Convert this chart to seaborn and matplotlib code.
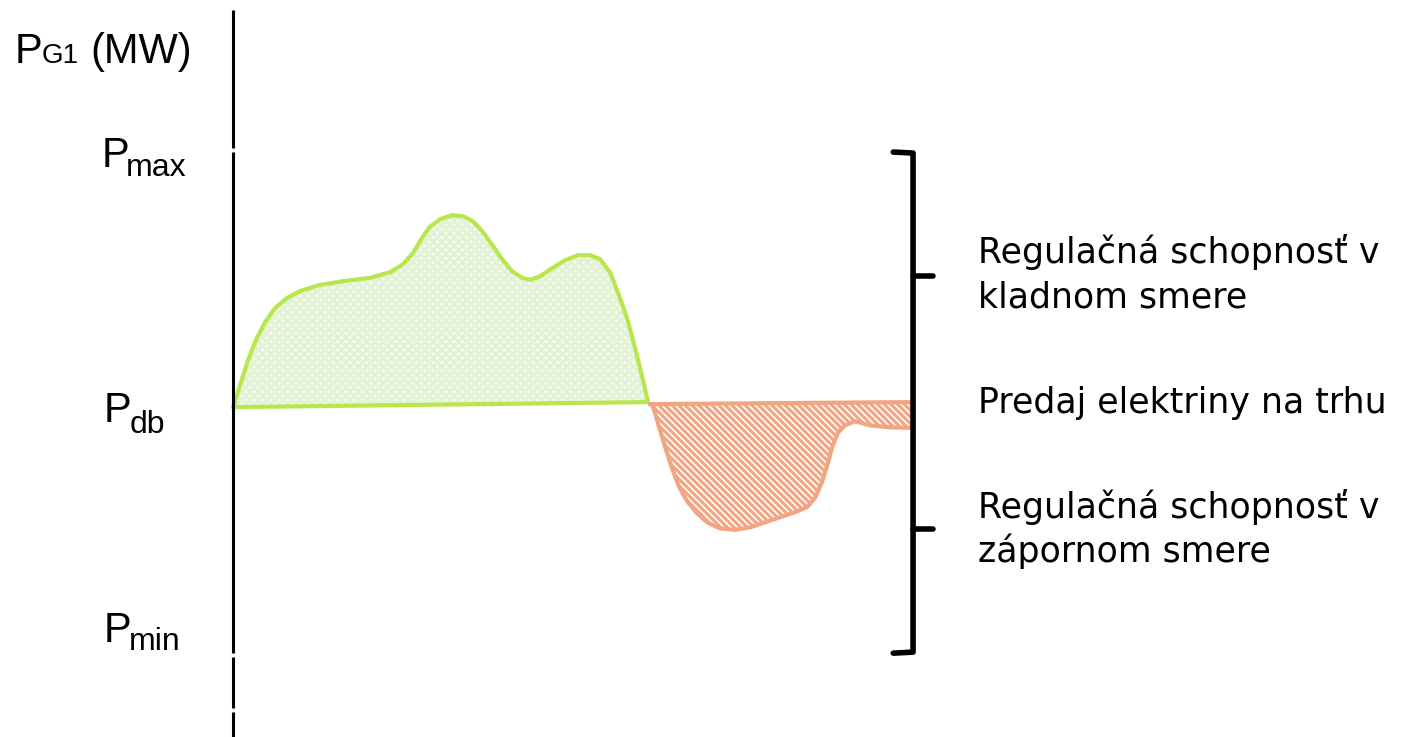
import numpy as np
import pandas as pd
import matplotlib.pyplot as plt
import seaborn as sns

# Power levels of the unit (MW)
p_max = 100
p_db = 50
p_min = 0

# Positive regulation (green area) - time (h) vs power (MW)
up_t = [0.00, 0.25, 0.53, 0.81, 1.13, 1.48, 1.91, 2.37, 3.08, 3.96, 4.84, 5.55, 6.01, 6.36,
        6.68, 6.96, 7.32, 7.74, 8.13, 8.48, 8.80, 9.16, 9.51, 9.86, 10.22, 10.50, 10.85,
        11.28, 11.74, 12.20, 12.62, 12.97, 13.33, 13.68, 13.93, 14.14, 14.32, 14.49, 14.67]
up_p = [49.1, 53.5, 58.4, 62.4, 65.9, 68.7, 70.7, 72.1, 73.3, 74.1, 74.7, 75.8, 77.4, 79.6,
        82.6, 84.8, 86.3, 87.1, 86.9, 85.9, 84.0, 81.2, 78.4, 76.0, 74.7, 74.3, 75.0,
        76.6, 78.2, 79.2, 79.2, 78.4, 75.8, 70.7, 66.7, 62.4, 58.4, 54.5, 50.1]

# Negative regulation (orange area)
down_t = [14.74, 24.00, 24.00, 23.22, 22.52, 21.99, 21.63, 21.38, 21.17, 21.03, 20.81, 20.57,
          20.29, 19.87, 19.34, 18.81, 18.28, 17.74, 17.21, 16.76, 16.40, 16.05, 15.77,
          15.52, 15.31, 15.09, 14.92, 14.81]
down_p = [49.7, 50.1, 45.0, 45.1, 45.5, 46.3, 45.5, 44.0, 41.0, 38.0, 34.1, 31.1,
          29.3, 28.3, 27.3, 26.3, 25.3, 24.8, 25.1, 26.3, 28.1, 30.5, 33.3,
          37.0, 40.6, 44.6, 47.9, 49.7]

right_lines = ['Regulačná schopnosť v', 'kladnom smere',
               'Predaj elektriny na trhu',
               'Regulačná schopnosť v', 'zápornom smere']

GREEN = '#b7e74c'
GREEN_HATCH = '#e2f2d4'
ORANGE = '#f2a583'

W, H = 1414, 737
sns.set_theme(style='white')
plt.rcParams['font.family'] = ['Liberation Sans', 'DejaVu Sans']
plt.rcParams['hatch.linewidth'] = 2.2

fig = plt.figure(figsize=(W / 100, H / 100), dpi=100)
ax = fig.add_axes([0, 0, 1, 1])
ax.set_xlim(-8.24, 41.75)
ax.set_ylim(-16.2, 129.7)
ax.axis('off')

# closed outlines
up_df = pd.DataFrame({'t': up_t + [up_t[0]], 'p': up_p + [up_p[0]]})
down_df = pd.DataFrame({'t': down_t + [down_t[0]], 'p': down_p + [down_p[0]]})

ax.fill(up_t, up_p, facecolor='#f6fbf0', edgecolor=GREEN_HATCH, linewidth=0, hatch='xxxx')
ax.fill(down_t, down_p, facecolor='white', edgecolor=ORANGE, linewidth=0, hatch='\\' * 5)
sns.lineplot(data=up_df, x='t', y='p', sort=False, estimator=None, color=GREEN, lw=3, ax=ax)
sns.lineplot(data=down_df, x='t', y='p', sort=False, estimator=None, color=ORANGE, lw=3, ax=ax)

# vertical power axis with small breaks
top, bottom = 127.7, -16.2
ax.vlines([0, 0, 0, 0], [p_max + 0.4, p_min + 0.4, -10.5, bottom],
          [top, p_max - 0.4, p_min - 0.4, -11.3], color='black', lw=2.2)

# brace on the right
t_end = down_t[1]
bx = t_end + 0.04
ax.plot([bx - 0.7, bx, bx, bx - 0.7], [p_max - 0.4, p_max - 0.6, p_min + 0.6, p_min + 0.4],
        color='black', lw=4, solid_joinstyle='round')
for lvl in [(p_max + p_db) / 2, (p_db + p_min) / 2]:
    ax.plot([bx, bx + 0.7], [lvl, lvl], color='black', lw=4)


def px(x, y, s, size, **kw):
    fig.text(x / W, 1 - y / H, s, fontsize=size, va='baseline', ha='left', color='black', **kw)


# left labels
px(15, 63, 'P', 30)
px(42, 63, 'G1', 20)
px(90, 63, '(MW)', 30)
px(102, 167, 'P', 30)
px(126, 176, 'max', 23)
px(104, 422, 'P', 30)
px(130, 433, 'db', 23)
px(104, 642, 'P', 30)
px(129, 650, 'min', 23)

# right labels
rfont = ['DejaVu Sans']
for s, yb in zip(right_lines, [263, 307, 413, 518, 562]):
    px(978, yb, s, 25, family=rfont)

fig.savefig('out.png', dpi=100)
